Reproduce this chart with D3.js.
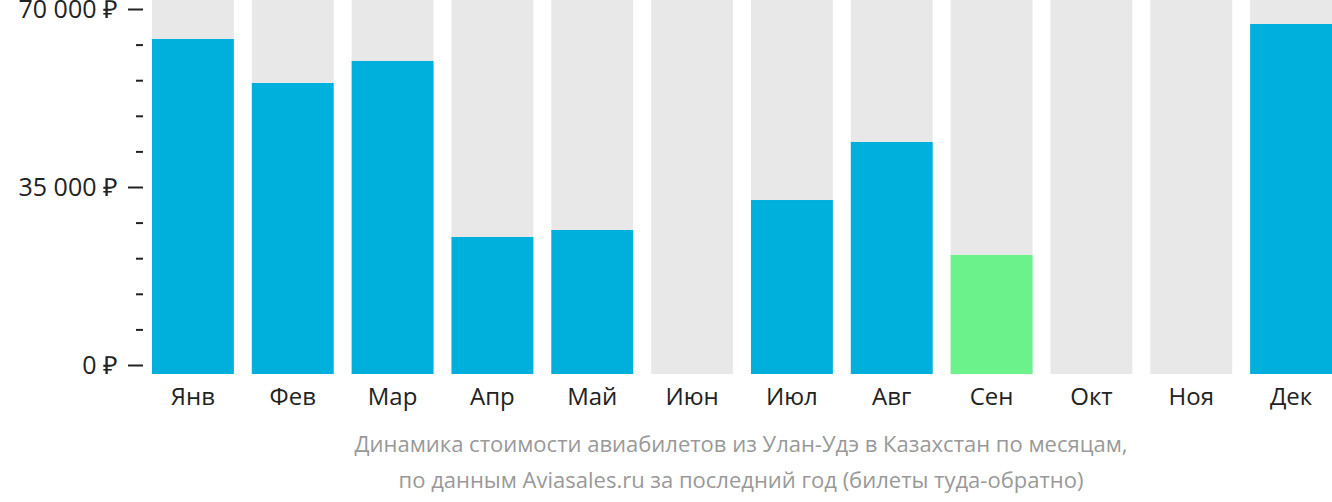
<!DOCTYPE html>
<html><head><meta charset="utf-8">
<script src="https://cdn.jsdelivr.net/npm/d3@7"></script>
<style>body{margin:0;background:#fff}svg{display:block}text{font-family:"Open Sans",sans-serif}</style>
</head><body><svg id="c" width="1332" height="502"></svg>
<script>
const months = ["Янв","Фев","Мар","Апр","Май","Июн","Июл","Авг","Сен","Окт","Ноя","Дек"];
const prices = [64100, 55450, 59780, 25170, 26550, null, 32440, 43850, 21630, null, null, 67050];
const cheapestIndex = 8;
const majorTicks = [0, 35000, 70000];
const minorTicks = [7000,14000,21000,28000,42000,49000,56000,63000];
const caption = ["Динамика стоимости авиабилетов из Улан-Удэ в Казахстан по месяцам,",
                 "по данным Aviasales.ru за последний год (билеты туда-обратно)"];

const svg = d3.select("#c");
const yMax = 71770;
const y = d3.scaleLinear().domain([0, 70000]).range([365, 9]);
const x = d3.scaleBand().domain(months).range([142, 1342]).paddingInner(0.18).paddingOuter(0.1);
const base = y(0) + 9;

const g = svg.append("g");
g.selectAll("rect.bg").data(months).join("rect")
  .attr("x", d => x(d)).attr("width", x.bandwidth())
  .attr("y", y(yMax)).attr("height", base - y(yMax)).attr("fill", "#e8e8e8");
g.selectAll("rect.v").data(prices.map((p,i)=>({p,i})).filter(d=>d.p!=null)).join("rect")
  .attr("x", d => x(months[d.i])).attr("width", x.bandwidth())
  .attr("y", d => y(d.p)).attr("height", d => base - y(d.p))
  .attr("fill", d => d.i === cheapestIndex ? "#6cf28a" : "#00b0dc");

const fmt = v => (v === 0 ? "0" : d3.format(",")(v).replace(/,/g, "\u00a0")) + "\u00a0₽";
const axMaj = d3.axisLeft(y).tickValues(majorTicks).tickSize(15).tickPadding(10).tickFormat(fmt);
const ga = svg.append("g").attr("transform", "translate(143,0)").call(axMaj);
ga.select(".domain").remove();
ga.selectAll("line").attr("stroke", "#222").attr("stroke-width", 2);
ga.selectAll("text").attr("font-size", 25).attr("fill", "#222").attr("font-family", "Open Sans");
const axMin = d3.axisLeft(y).tickValues(minorTicks).tickSize(7).tickFormat("");
const gm = svg.append("g").attr("transform", "translate(143,0)").call(axMin);
gm.select(".domain").remove();
gm.selectAll("line").attr("stroke", "#222").attr("stroke-width", 2);

const gx = svg.append("g").attr("transform", `translate(0,${base})`).call(d3.axisBottom(x).tickSize(0).tickPadding(14));
gx.select(".domain").remove();
gx.selectAll("text").attr("font-size", 24).attr("fill", "#222").attr("font-family", "Open Sans");

svg.selectAll("text.cap").data(caption).join("text").attr("class","cap")
  .attr("x", 741).attr("y", (d,i) => 452 + i*36).attr("text-anchor","middle")
  .attr("font-size", 22).attr("fill", "#999").text(d => d);
</script></body></html>
